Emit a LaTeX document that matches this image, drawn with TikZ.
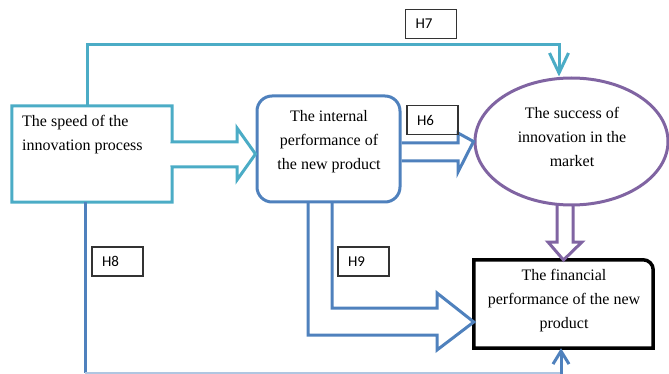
\documentclass[tikz,border=0pt]{standalone}
\usepackage{fontspec}
\setmainfont{Liberation Serif}
\newfontfamily\labfont{Carlito}
\usetikzlibrary{arrows.meta,shapes.geometric}
\definecolor{tealline}{HTML}{4BACC6}
\definecolor{blueline}{HTML}{4F81BD}
\definecolor{purpleline}{HTML}{8064A2}
\begin{document}
\begin{tikzpicture}[x=1pt,y=-1pt,line join=miter,
  txt/.style={font=\fontsize{16}{24}\selectfont,align=center,inner sep=0pt},
  hlabel/.style={draw=black!80,line width=1.2pt,minimum height=29pt,text width=31pt,
    inner xsep=10pt,inner ysep=0pt,align=left,font=\labfont\fontsize{15}{18}\selectfont},
  chevron/.style={-{Straight Barb[length=20pt,width=19pt]}},
  smallchevron/.style={-{Straight Barb[length=13pt,width=16pt]}}]
\useasboundingbox (0,0) rectangle (669,374);

% main boxes
\node[minimum width=160pt,minimum height=96pt,inner sep=0pt] (speed) at (92,154) {};
\node[draw=blueline,line width=3pt,rounded corners=15pt,minimum width=143pt,
  minimum height=106pt,inner sep=0pt] (internal) at (328.5,149) {};
\node[draw=purpleline,line width=3pt,ellipse,minimum width=193pt,minimum height=127pt,
  inner sep=0pt] (success) at (571.5,141.5) {};
\node[minimum width=179pt,minimum height=88pt,inner sep=0pt] (financial) at (563.5,304) {};

% speed box with its block arrow towards the internal performance box
\draw[tealline,line width=3pt]
  (speed.north west) -- (speed.north east) -- (172,142) -- (237,142) -- (237,128)
  -- (internal.west |- 0,154) -- (237,180) -- (237,167) -- (172,167)
  -- (speed.south east) -- (speed.south west) -- cycle;

% financial box, top right corner rounded
\draw[black,line width=3.5pt]
  (financial.north) [rounded corners=10pt] -- (financial.north east) -- (financial.east)
  [sharp corners] -- (financial.south east) -- (financial.south west)
  -- (financial.north west) -- cycle;

% texts
\node[txt,align=left,anchor=west] (speedtxt) at (22,135) {The speed of the\\innovation process};
\node[txt] (internaltxt) at (329,142) {The internal\\performance of\\the new product};
\node[txt] (successtxt) at (572,137) {The success of\\innovation in the\\market};
\node[txt] (financialtxt) at (564,301) {The financial\\performance of the new\\product};

% H6 block arrow
\draw[blueline,line width=3pt]
  (internal.east |- 0,143) -- (458,143) -- (458,133) -- (success.west) -- (458,172)
  -- (458,161) -- (internal.east |- 0,161);

% H9 block arrow
\draw[blueline,line width=3pt]
  (332,203) -- (332,308) -- (437,308) -- (437,293) -- (financial.west |- 0,322)
  -- (437,350) -- (437,335) -- (308,335) -- (308,203);

% purple block arrow from success to financial performance
\draw[purpleline,line width=3pt]
  (557,205) -- (557,242) -- (548,242) -- (financial.north |- 0,260) -- (582,242)
  -- (573,242) -- (573,205);

% H7 connector
\coordinate (h7top) at (87,45);
\draw[tealline,line width=3pt,chevron]
  (speed.north -| h7top) -- (h7top) -- (559,45) -- (success.north -| 559,0);

% H8 connector
\coordinate (h8bottom) at (85,373);
\draw[blueline,line width=3pt]
  (speed.south -| h8bottom) -- (h8bottom);
\draw[blueline!45,line width=1.5pt] (h8bottom) -- (561,373);
\draw[blueline,line width=3pt,smallchevron] (561,374) -- (financial.south -| 561,0);

% hypothesis labels
\node[hlabel] (h7) at (431,24) {H7};
\node[hlabel] (h6) at (432.5,120) {H6};
\node[hlabel] (h8) at (117.5,261.5) {H8};
\node[hlabel] (h9) at (363.5,261.5) {H9};
\end{tikzpicture}
\end{document}
